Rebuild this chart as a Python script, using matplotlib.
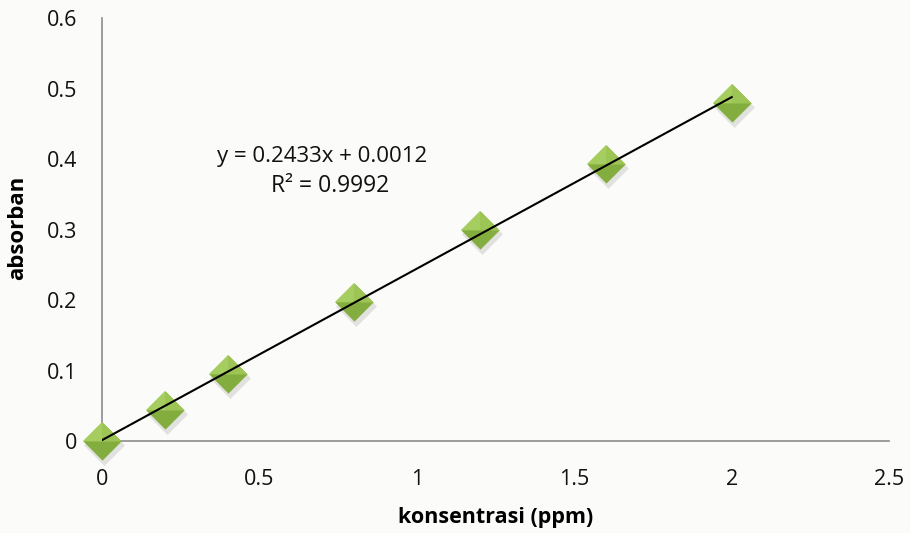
import matplotlib
matplotlib.use("Agg")
import matplotlib.pyplot as plt
from matplotlib.path import Path
import numpy as np

plt.rcParams['font.family'] = ['Open Sans', 'DejaVu Sans']

# Calibration data
konsentrasi = [0, 0.2, 0.4, 0.8, 1.2, 1.6, 2.0]
absorban = [0.0, 0.044, 0.095, 0.197, 0.299, 0.393, 0.480]
slope = 0.2433
intercept = 0.0012
r_squared = 0.9992

x_ticks = [0, 0.5, 1, 1.5, 2, 2.5]
x_tick_labels = ['0', '0.5', '1', '1.5', '2', '2.5']
y_ticks = [0, 0.1, 0.2, 0.3, 0.4, 0.5, 0.6]
y_tick_labels = ['0', '0.1', '0.2', '0.3', '0.4', '0.5', '0.6']

fig = plt.figure(figsize=(9.1, 5.33), dpi=100)
fig.patch.set_facecolor('#fbfbf9')
ax = fig.add_axes([0.1121, 0.1726, 0.865, 0.7936])
ax.set_facecolor('none')

ax.set_xlim(0, 2.5)
ax.set_ylim(0, 0.6)

# Marker shapes: full diamond plus lit faces for a bevelled look
diamond = Path([(0, 1), (1, 0), (0, -1), (-1, 0), (0, 1)],
               [Path.MOVETO, Path.LINETO, Path.LINETO, Path.LINETO, Path.CLOSEPOLY])
upper = Path([(0, 1), (1, 0), (-1, 0), (0, 1)],
             [Path.MOVETO, Path.LINETO, Path.LINETO, Path.CLOSEPOLY])
left_face = Path([(0, 1), (0, 0), (-1, 0), (0, 1)],
                 [Path.MOVETO, Path.LINETO, Path.LINETO, Path.CLOSEPOLY])

ms = 27.5
# soft shadow
ax.plot(np.array(konsentrasi) + 0.006, np.array(absorban) - 0.006, linestyle='none',
        marker=diamond, markersize=ms + 2, color='#000000', alpha=0.10, zorder=2,
        markeredgewidth=0, clip_on=False)
ax.plot(konsentrasi, absorban, linestyle='none', marker=diamond, markersize=ms,
        color='#84ad3f', markeredgewidth=0, zorder=3, clip_on=False)
ax.plot(konsentrasi, absorban, linestyle='none', marker=upper, markersize=ms,
        color='#9cc556', markeredgewidth=0, zorder=3.1, clip_on=False)
ax.plot(konsentrasi, absorban, linestyle='none', marker=left_face, markersize=ms,
        color='#a6cd60', markeredgewidth=0, zorder=3.2, clip_on=False)

# Linear trendline
xl = np.array([min(konsentrasi), max(konsentrasi)])
ax.plot(xl, slope * xl + intercept, color='black', linewidth=1.5, zorder=4)

ax.text(0.70, 0.404, f'y = {slope}x + {intercept:.4f}', fontsize=16,
        ha='center', va='center', color='#111111')
ax.text(0.724, 0.362, f'R² = {r_squared}', fontsize=16.5,
        ha='center', va='center', color='#111111')

for s in ['top', 'right']:
    ax.spines[s].set_visible(False)
for s in ['left', 'bottom']:
    ax.spines[s].set_color('#8c8c8c')
    ax.spines[s].set_linewidth(1.2)

ax.set_xticks(x_ticks)
ax.set_xticklabels(x_tick_labels)
ax.set_yticks(y_ticks)
ax.set_yticklabels(y_tick_labels)
ax.tick_params(length=0, labelsize=15.5, colors='#111111')
ax.tick_params(axis='x', pad=20)
ax.tick_params(axis='y', pad=18)

fig.text(495.5 / 910, 1 - 518 / 533, 'konsentrasi (ppm)', fontsize=15.5,
         fontweight='bold', ha='center', va='center')
fig.text(18 / 910, 1 - 228 / 533, 'absorban', fontsize=16, fontweight='bold',
         ha='center', va='center', rotation=90)

fig.savefig('out.png', dpi=100, facecolor=fig.get_facecolor())
